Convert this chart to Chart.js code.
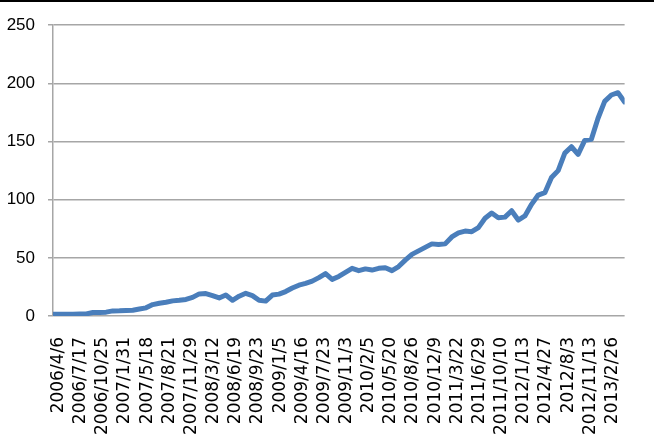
<!DOCTYPE html>
<html>
<head>
<meta charset="utf-8">
<script src="https://cdn.jsdelivr.net/npm/chart.js@4"></script>
<style>
  body { margin: 0; background: #fff; overflow: hidden; }
  #wrap { width: 654px; height: 433px; border-top: 2px solid #000; }
</style>
</head>
<body>
<div id="wrap"><canvas id="line-chart" width="654" height="433"></canvas></div>
<script>
// tick labels on the x axis (one per label interval)
const dateLabels = ["2006/4/6", "2006/7/17", "2006/10/25", "2007/1/31", "2007/5/18", "2007/8/21",
  "2007/11/29", "2008/3/12", "2008/6/19", "2008/9/23", "2009/1/5", "2009/4/16", "2009/7/23",
  "2009/11/3", "2010/2/5", "2010/5/20", "2010/8/26", "2010/12/9", "2011/3/22", "2011/6/29",
  "2011/10/10", "2012/1/13", "2012/4/27", "2012/8/3", "2012/11/13", "2013/2/26"];

// series values, read every 0.3 of a label interval
const values = [1.5, 1.5, 1.5, 1.6, 1.7, 1.8, 3.0, 3.1, 3.3, 4.4, 4.5, 4.8,
  5.0, 6.0, 7.0, 9.8, 11, 11.8, 13, 13.5, 14.2, 16, 19, 19.3,
  17.5, 15.5, 18, 13.5, 17, 19.5, 17.5, 13.5, 12.8, 18, 18.8, 21,
  24, 26.5, 28, 30, 33, 36.5, 31.5, 34, 37.5, 41, 39, 40.5,
  39.5, 41, 41.5, 39, 42.5, 48, 53, 56, 59, 62, 61.5, 62,
  68, 71.5, 73, 72.5, 76, 84, 88.5, 84.5, 85, 90.5, 82.5, 86,
  96, 104, 106, 119, 125, 140, 145.5, 139, 151, 152, 170, 184.5,
  190, 192, 184];

const yTicks = [0, 50, 100, 150, 200, 250];

const step = 0.3;       // spacing of readings, in label intervals
const labelShift = 0.25; // labels sit a little right of the interval start

const points = values.map((v, i) => ({ x: i * step, y: v }));

const ctx = document.getElementById('line-chart');

new Chart(ctx, {
  type: 'line',
  data: {
    datasets: [{
      data: points,
      borderColor: '#4A7EBB',
      borderWidth: 5,
      pointRadius: 0,
      tension: 0,
      borderJoinStyle: 'round',
      borderCapStyle: 'round'
    }]
  },
  options: {
    responsive: false,
    animation: false,
    layout: { padding: { top: 18, right: 8, left: 0, bottom: 0 } },
    plugins: { legend: { display: false }, tooltip: { enabled: false } },
    scales: {
      x: {
        type: 'linear',
        min: 0,
        max: 25.8,
        grid: { display: false, drawTicks: false },
        border: { display: false },
        afterFit: (scale) => { scale.height = 119; },
        afterBuildTicks: (scale) => {
          scale.ticks = dateLabels.map((_, i) => ({ value: i + labelShift }));
        },
        ticks: {
          autoSkip: false,
          maxRotation: 90,
          minRotation: 90,
          padding: 21,
          color: '#000',
          font: { family: "'DejaVu Sans', Verdana, sans-serif", size: 17 },
          callback: (value, index) => dateLabels[index]
        }
      },
      y: {
        min: 0,
        max: 250,
        afterFit: (scale) => { scale.width = 53; },
        afterBuildTicks: (scale) => {
          scale.ticks = yTicks.map(v => ({ value: v }));
        },
        grid: { color: '#a6a6a6', lineWidth: 1.5, tickLength: 5 },
        border: { color: '#a6a6a6', width: 1.5 },
        ticks: {
          padding: 13,
          color: '#000',
          font: { family: "'Liberation Sans', Arial, sans-serif", size: 17 }
        }
      }
    }
  }
});
</script>
</body>
</html>
